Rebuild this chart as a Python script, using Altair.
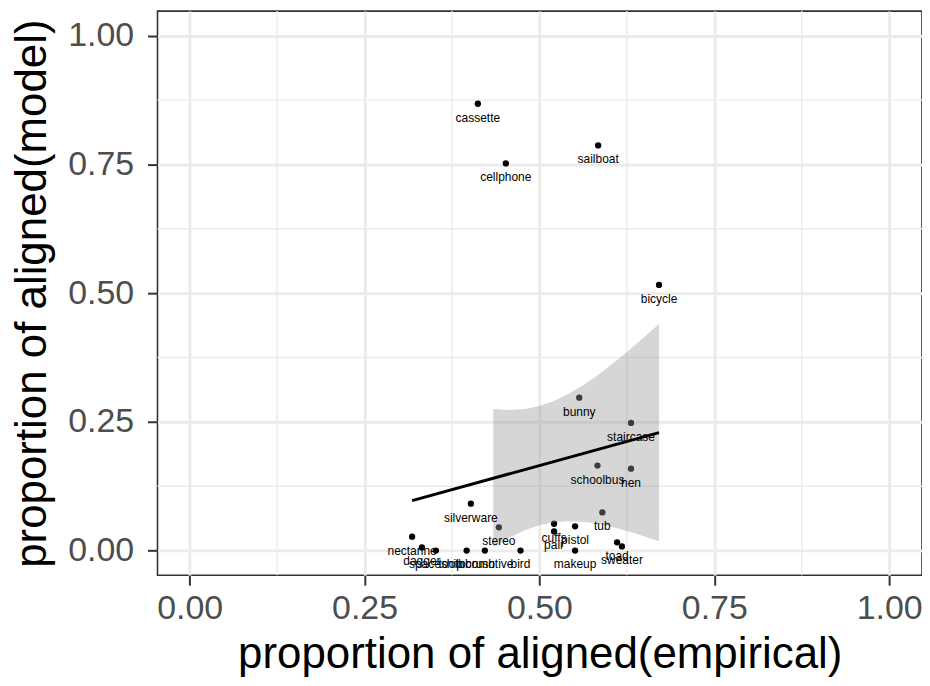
import altair as alt
import pandas as pd

# ---- data ----
words = ["cassette", "cellphone", "sailboat", "bicycle", "bunny", "staircase",
         "schoolbus", "hen", "silverware", "stereo", "tub", "cuffs", "pair",
         "pistol", "makeup", "toad", "sweater", "nectarine", "dagger",
         "spaceship", "toothbrush", "locomotive", "bird"]
empirical = [0.412, 0.452, 0.584, 0.671, 0.557, 0.631,
             0.583, 0.631, 0.402, 0.442, 0.590, 0.521, 0.521,
             0.551, 0.551, 0.611, 0.618, 0.318, 0.332,
             0.352, 0.396, 0.422, 0.473]
model = [0.868, 0.752, 0.787, 0.516, 0.297, 0.248,
         0.165, 0.159, 0.091, 0.045, 0.074, 0.052, 0.037,
         0.047, 0.000, 0.016, 0.008, 0.027, 0.006,
         0.000, 0.000, 0.000, 0.000]

# fitted line (lm) endpoints
fit_x = [0.318, 0.671]
fit_y = [0.097, 0.229]

# confidence band (only the part drawn inside the limits)
band_x = [0.434, 0.46, 0.48, 0.50, 0.52, 0.54, 0.56, 0.58, 0.60, 0.62, 0.64, 0.66, 0.671]
band_lo = [0.006, 0.027, 0.040, 0.049, 0.055, 0.057, 0.056, 0.053, 0.047, 0.040, 0.032, 0.023, 0.018]
band_hi = [0.275, 0.273, 0.275, 0.281, 0.290, 0.303, 0.319, 0.337, 0.358, 0.380, 0.403, 0.427, 0.440]

major_breaks = [0.0, 0.25, 0.5, 0.75, 1.0]
minor_breaks = [0.125, 0.375, 0.625, 0.875]

pts = pd.DataFrame({"word": words, "empirical": empirical, "model": model})
fit = pd.DataFrame({"x": fit_x, "y": fit_y})
band = pd.DataFrame({"x": band_x, "lo": band_lo, "hi": band_hi})
minor = pd.DataFrame({"v": minor_breaks})

FONT = "Liberation Sans"
xdom = [-0.046, 1.047]
ydom = [-0.048, 1.048]

xscale = alt.Scale(domain=xdom, nice=False, zero=False)
yscale = alt.Scale(domain=ydom, nice=False, zero=False)

xaxis = alt.Axis(values=major_breaks, format=".2f", title="proportion of aligned(empirical)",
                 labelFontSize=34, labelColor="#4D4D4D", labelFont=FONT,
                 tickColor="#333333", tickWidth=2, tickSize=10, labelPadding=6,
                 domain=False, grid=True, gridColor="#EBEBEB", gridWidth=2.8,
                 titleFontSize=44, titleFont=FONT, titleFontWeight="normal",
                 titleColor="black", titleBaseline="alphabetic", titleY=93)
yaxis = alt.Axis(values=major_breaks, format=".2f", title="proportion of aligned(model)",
                 labelFontSize=34, labelColor="#4D4D4D", labelFont=FONT,
                 tickColor="#333333", tickWidth=2, tickSize=10, labelPadding=14,
                 domain=False, grid=True, gridColor="#EBEBEB", gridWidth=2.8,
                 titleFontSize=44, titleFont=FONT, titleFontWeight="normal",
                 titleColor="black", titlePadding=13)

minor_v = alt.Chart(minor).mark_rule(color="#EBEBEB", strokeWidth=1.4).encode(
    x=alt.X("v:Q", scale=xscale, axis=xaxis))
minor_h = alt.Chart(minor).mark_rule(color="#EBEBEB", strokeWidth=1.4).encode(
    y=alt.Y("v:Q", scale=yscale, axis=yaxis))

points = alt.Chart(pts).mark_circle(color="black", opacity=1, size=40).encode(
    x=alt.X("empirical:Q", scale=xscale, axis=xaxis),
    y=alt.Y("model:Q", scale=yscale, axis=yaxis))

ribbon = alt.Chart(band).mark_area(color="#999999", opacity=0.4).encode(
    x=alt.X("x:Q", scale=xscale, axis=xaxis),
    y=alt.Y("lo:Q", scale=yscale, axis=yaxis),
    y2="hi:Q")

line = alt.Chart(fit).mark_line(color="black", strokeWidth=3).encode(
    x=alt.X("x:Q", scale=xscale, axis=xaxis),
    y=alt.Y("y:Q", scale=yscale, axis=yaxis))

labels = alt.Chart(pts).mark_text(font=FONT, fontSize=12, color="black",
                                  baseline="middle", align="center", dy=14).encode(
    x=alt.X("empirical:Q", scale=xscale, axis=xaxis),
    y=alt.Y("model:Q", scale=yscale, axis=yaxis),
    text="word:N")

chart = alt.layer(minor_v, minor_h, points, ribbon, line, labels).properties(
    width=767, height=566,
    autosize=alt.AutoSizeParams(type="none"),
    padding={"left": 150, "top": 2, "right": 0, "bottom": 102},
    background="white",
).configure_view(stroke="#333333", strokeWidth=1.6)

chart.save("out.html", embed_options={"renderer": "svg", "actions": False})
